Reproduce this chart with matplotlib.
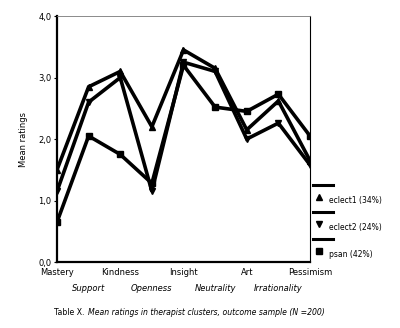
import matplotlib.pyplot as plt
from matplotlib.lines import Line2D

categories = ["Mastery", "Support", "Kindness", "Openness", "Insight",
              "Neutrality", "Art", "Irrationality", "Pessimism"]
eclect1 = [1.5, 2.85, 3.1, 2.2, 3.45, 3.15, 2.15, 2.62, 1.65]
eclect2 = [1.15, 2.6, 3.0, 1.15, 3.25, 3.1, 2.0, 2.26, 1.58]
psan = [0.65, 2.05, 1.75, 1.28, 3.2, 2.52, 2.45, 2.73, 2.05]
series = [("eclect1 (34%)", eclect1, "^"),
          ("eclect2 (24%)", eclect2, "v"),
          ("psan (42%)", psan, "s")]
yticks = [0, 1, 2, 3, 4]

fig = plt.figure(figsize=(4.0, 3.28), dpi=100)
ax = fig.add_axes([0.1425, 0.201, 0.6325, 0.75])

x = list(range(len(categories)))
for name, vals, mk in series:
    ax.plot(x, vals, color="black", lw=2.6, marker=mk, markersize=4.5,
            solid_joinstyle="miter")

ax.set_xlim(0, len(categories) - 1)
ax.set_ylim(0, 4)
ax.set_yticks(yticks)
ax.set_yticklabels([f"{v:.1f}".replace(".", ",") for v in yticks], fontsize=6)
ax.set_xticks(x)
ax.set_xticklabels([])
ax.tick_params(axis="x", length=0)
ax.tick_params(axis="y", length=2, width=0.8, pad=2)
# category names on two staggered rows, second row in italics
for i, c in enumerate(categories):
    if i % 2 == 0:
        ax.text(i, -0.024, c, ha="center", va="top", fontsize=6,
                transform=ax.get_xaxis_transform(), clip_on=False)
    else:
        ax.text(i, -0.088, c, ha="center", va="top", fontsize=6, style="italic",
                transform=ax.get_xaxis_transform(), clip_on=False)

ax.set_ylabel("Mean ratings", fontsize=6, labelpad=7)

ax.spines["left"].set_linewidth(1.6)
ax.spines["bottom"].set_linewidth(1.6)
ax.spines["top"].set_linewidth(0.6)
ax.spines["top"].set_color("#777777")
ax.spines["right"].set_linewidth(0.8)

# legend, drawn by hand in the old spreadsheet style
for k, (name, vals, mk) in enumerate(series):
    y0 = 0.313 - k * 0.11
    ax.add_line(Line2D([1.01, 1.09], [y0, y0], color="black", lw=2.2,
                       transform=ax.transAxes, clip_on=False))
    ax.add_line(Line2D([1.035], [y0 - 0.05], color="black", marker=mk,
                       markersize=4, transform=ax.transAxes, clip_on=False))
    ax.text(1.075, y0 - 0.062, name, fontsize=5.5, va="center", ha="left",
            transform=ax.transAxes)

fig.text(0.135, 0.048, "Table X.", fontsize=5.6, ha="left", va="center")
fig.text(0.219, 0.048, "Mean ratings in therapist clusters, outcome sample (N =200)",
         fontsize=5.6, ha="left", va="center", style="italic")

fig.savefig("out.png", dpi=100)
